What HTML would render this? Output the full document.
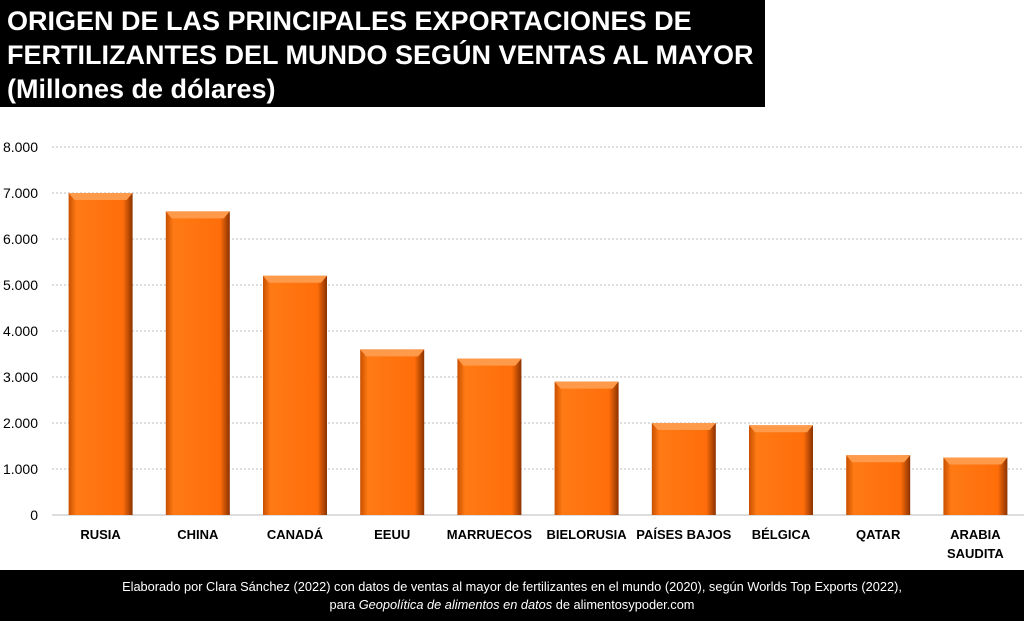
<!DOCTYPE html>
<html><head><meta charset="utf-8"><style>
body{margin:0;width:1024px;height:621px;background:#fff;overflow:hidden;position:relative;font-family:"Liberation Sans",sans-serif}
#title{position:absolute;left:0;top:0;width:765px;height:107px;background:#000;color:#fff;font-weight:bold;font-size:27px;line-height:34px;padding:4px 0 0 7px;box-sizing:border-box;white-space:nowrap}
#footer{position:absolute;left:0;top:570px;width:1024px;height:51px;background:#000;color:#fff;font-size:12.8px;text-align:center;line-height:18px;padding-top:8px;box-sizing:border-box}
svg{position:absolute;left:0;top:0}
</style></head><body>
<div id="title">ORIGEN DE LAS PRINCIPALES EXPORTACIONES DE<br>FERTILIZANTES DEL MUNDO SEGÚN VENTAS AL MAYOR<br>(Millones de dólares)</div>
<svg id="chart" width="1024" height="570">
<defs>
<linearGradient id="g" x1="0" x2="1" y1="0" y2="0">
<stop offset="0" stop-color="#c85000"/><stop offset="0.12" stop-color="#ff7a14"/><stop offset="0.85" stop-color="#ff6e0a"/><stop offset="1" stop-color="#8a3200"/>
</linearGradient>
</defs>
</svg>
<div id="footer">Elaborado por Clara Sánchez (2022) con datos de ventas al mayor de fertilizantes en el mundo (2020), según Worlds Top Exports (2022),<br>para <i>Geopolítica de alimentos en datos</i> de alimentosypoder.com</div>
<script>
const categories=[["RUSIA"],["CHINA"],["CANADÁ"],["EEUU"],["MARRUECOS"],["BIELORUSIA"],["PAÍSES BAJOS"],["BÉLGICA"],["QATAR"],["ARABIA","SAUDITA"]];
const values=[7000,6600,5200,3600,3400,2900,2000,1950,1300,1250];
const ticks=[0,1000,2000,3000,4000,5000,6000,7000,8000];
const tickLabels=["0","1.000","2.000","3.000","4.000","5.000","6.000","7.000","8.000"];
const svg=document.getElementById('chart');const NS="http://www.w3.org/2000/svg";
const y0=515,y8=147,x0=52,x1=1024;
const y=v=>y0-(v/8000)*(y0-y8);
const step=(x1-x0)/categories.length;
const xc=i=>x0+step*(i+0.5);
function mk(t,a){const e=document.createElementNS(NS,t);for(const k in a)e.setAttribute(k,a[k]);svg.appendChild(e);return e;}
ticks.forEach((t,i)=>{
 const l=mk('line',{x1:x0,x2:x1,y1:y(t),y2:y(t),stroke:'#bbb','stroke-dasharray':t===0?'':'2,2'});
 
 
 const tx=mk('text',{x:38,y:y(t)+5,'text-anchor':'end','font-size':'14',fill:'#000'});tx.textContent=tickLabels[i];
 
 
});
const bw=64;
values.forEach((v,i)=>{
 const bx=xc(i)-bw/2,by=y(v);
 const r=mk('rect',{x:bx,y:by,width:bw,height:y0-by,fill:'url(#g)'});
 
 
 const p=mk('polygon',{points:`${bx},${by} ${bx+bw},${by} ${bx+bw-6},${by+7} ${bx+6},${by+7}`,fill:'#ff9a4a'});
 
 
 categories[i].forEach((s,j)=>{
  const t=mk('text',{x:xc(i),y:539+j*19,'text-anchor':'middle','font-size':'13','font-weight':'bold',fill:'#000'});t.textContent=s;
  
  
 });
});
</script>
</body></html>
